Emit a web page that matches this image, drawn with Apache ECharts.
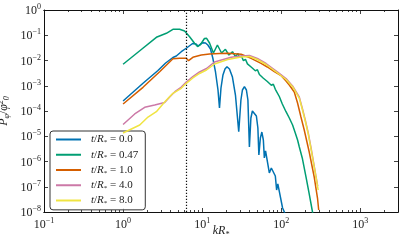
<!DOCTYPE html>
<html><head><meta charset="utf-8">
<script src="https://cdn.jsdelivr.net/npm/echarts@6/dist/echarts.min.js"></script>
<style>html,body{margin:0;padding:0;background:#fff}#c{width:403px;height:245px}</style>
</head><body><div id="c"></div>
<script>
// ---- data ----
const legendValues = ['0.0', '0.47', '1.0', '4.0', '8.0'];
const seriesColors = ['#0072B2', '#009E73', '#D55E00', '#CC79A7', '#F0E442'];

const kBlue = [1.0,1.787,2.763,3.455,4.27,4.714,5.45,6.36,7.57,8.38,8.88,9.55,10.27,11.04,11.80,12.76,13.64,14.76,15.87,16.57,17.31,18.34,19.45,20.61,22.16,24.17,26.38,29.03,30.94,32.32,34.26,36.30,37.92,39.61,41.37,43.21,45.80,48.53,50.70,52.19,54.51,56.93,59.46,61.21,63.39,65.83,70.78,75.02,79.51,84.25,87.50,90.62,94.63,104.1,111.0];
const pBlue = [2.49e-4,1.25e-3,4.02e-3,7.96e-3,0.01315,0.01507,0.02232,0.03126,0.04715,0.04501,0.0375,0.04501,0.0507,0.04933,0.04111,0.02852,0.01256,3.51e-3,6.79e-4,1.31e-4,8.14e-4,2.67e-3,4.61e-3,5.68e-3,4.61e-3,2.22e-3,4.30e-4,1.51e-5,2.73e-4,6.79e-4,9.17e-4,6.79e-4,2.73e-4,3.75e-6,5.28e-5,1.0e-4,1.10e-4,6.34e-5,2.12e-5,1.81e-6,8.53e-6,1.47e-5,7.10e-6,1.38e-6,2.61e-6,2.38e-6,3.51e-7,5.53e-7,5.05e-7,2.67e-7,7.43e-8,1.29e-7,1.17e-7,1.44e-8,9.1e-9];

const kGreen = [1.0,1.672,2.637,3.526,4.272,5.19,6.0,6.94,8.02,8.75,9.55,10.7,11.4,12.4,13.9,15.6,17.6,19.7,21.8,24.2,26.4,28.4,29.6,31.4,33.3,35.3,37.4,39.6,42.0,44.5,47.1,50.0,53.0,56.1,59.5,63.0,66.8,70.8,75.0,79.5,84.3,89.3,94.6,103.3,115,126.6,139.3,150.7,161.1,169.2,184.6,205.5,226,248.8,254];
const pGreen = [7.1e-3,0.0261,0.0829,0.1194,0.172,0.172,0.147,0.0877,0.048,0.0358,0.043,0.0743,0.0757,0.0493,0.0198,0.0411,0.0198,0.0278,0.0165,0.0223,0.0141,0.0189,0.01315,0.01494,9.82e-3,0.01116,7.33e-3,8.33e-3,5.38e-3,6.05e-3,3.91e-3,4.32e-3,2.79e-3,3.06e-3,1.99e-3,2.24e-3,1.47e-3,1.66e-3,1.05e-3,1.15e-3,7.23e-4,7.10e-4,3.75e-4,1.89e-4,9.38e-5,5.28e-5,2.79e-5,1.35e-5,7.1e-6,3.85e-6,1.38e-6,2.5e-7,5.2e-8,1.0e-8,6.9e-9];

const kOrange = [1.0,1.787,2.902,4.27,5.19,6.30,6.74,7.63,9.74,12.40,16.57,21.09,31.12,41.62,55.63,66.79,81.84,99.4,115.0,126.5,146.3,161.0,177.7,195.6,226.1,261.5,287.7,298.0];
const pOrange = [1.89e-4,8.68e-4,3.60e-3,0.01168,0.01222,0.01222,9.82e-3,0.01339,0.01651,0.01808,0.01894,0.01928,0.01761,0.01222,7.74e-3,5.53e-3,3.60e-3,2.55e-3,1.54e-3,1.07e-3,5.65e-4,2.07e-4,5.78e-5,1.77e-5,2.38e-6,2.43e-7,3.58e-8,1.2e-8];

const kPink = [1.0,1.404,1.878,2.511,3.357,3.880,4.620,5.45,6.30,7.63,9.27,11.36,14.33,23.28,31.12,39.61,49.94,64.32,90.08,115.0,139.2,169.2,187.3,201.4,219.7,239.7,274.7,289.4];
const pPink = [2.92e-5,7.61e-5,1.40e-4,1.73e-4,2.17e-4,3.58e-4,6.19e-4,8.91e-4,1.41e-3,2.32e-3,3.51e-3,4.82e-3,8.72e-3,0.01339,0.01507,0.01578,0.012,7.61e-3,3.51e-3,1.94e-3,9.77e-4,3.58e-4,1.10e-4,4.40e-5,1.35e-5,3.13e-6,2.67e-7,1.07e-7];

const kYellow = [1.0,1.624,2.067,2.637,3.357,4.27,5.45,6.30,7.63,9.27,11.36,14.33,21.09,31.12,39.61,49.94,64.32,90.08,115.0,139.2,169.2,187.3,201.4,219.7,239.7,274.7,293.7];
const pYellow = [1.35e-5,2.79e-5,5.78e-5,9.38e-5,2.27e-4,5.02e-4,7.92e-4,1.25e-3,2.03e-3,3.06e-3,4.21e-3,7.27e-3,0.01096,0.01376,0.0144,0.01096,6.95e-3,3.20e-3,1.77e-3,9.17e-4,3.27e-4,1.0e-4,4.02e-5,1.23e-5,2.85e-6,2.5e-7,7.43e-8];

const xMajorTicks = [0.1, 1, 10, 100, 1000];
const xMinorTicks = [0.2,0.3,0.4,0.5,0.6,0.7,0.8,0.9,2,3,4,5,6,7,8,9,20,30,40,50,60,70,80,90,200,300,400,500,600,700,800,900,2000];
const yMajorTicks = [1e-8,1e-7,1e-6,1e-5,1e-4,1e-3,1e-2,1e-1,1];
const xRange = [0.1, 3000];
const yRange = [1e-8, 1];
const dottedK = 6.3;

// ---- chart ----
const F = 'Liberation Serif';
const zip = (k, p) => k.map((v, i) => [v, p[i]]);
const allK = [kBlue, kGreen, kOrange, kPink, kYellow];
const allP = [pBlue, pGreen, pOrange, pPink, pYellow];
const names = legendValues.map(v => 't/R* = ' + v);

function powLabel(v) {
  const e = Math.round(Math.log10(v));
  return '{b|10}{e|' + (e < 0 ? '\u2212' + (-e) : e) + '}';
}
const richPow = {
  b: {fontFamily: F, fontSize: 12, lineHeight: 14, color: '#222', verticalAlign: 'bottom'},
  e: {fontFamily: F, fontSize: 8, lineHeight: 8, color: '#222', verticalAlign: 'top'}
};
const axLine = {show: true, lineStyle: {color: '#111', width: 1}};
function xAx(pos, ticks, len, labels) {
  return {
    type: 'log', logBase: 10, min: xRange[0], max: xRange[1], position: pos,
    axisLine: axLine, splitLine: {show: false},
    axisTick: {show: true, inside: true, length: len, customValues: ticks, lineStyle: {color: '#111', width: 0.8}},
    axisLabel: labels ? {show: true, customValues: ticks, formatter: powLabel, rich: richPow, margin: 5} : {show: false}
  };
}
function yAx(pos, labels) {
  return {
    type: 'log', logBase: 10, min: yRange[0], max: yRange[1], position: pos,
    axisLine: axLine, splitLine: {show: false},
    axisTick: {show: true, inside: true, length: 4, customValues: yMajorTicks, lineStyle: {color: '#111', width: 0.8}},
    axisLabel: labels ? {show: true, customValues: yMajorTicks, formatter: powLabel, rich: richPow, margin: 3} : {show: false}
  };
}
const xs = [xAx('bottom', xMajorTicks, 4, true), xAx('top', xMajorTicks, 4, false),
            xAx('bottom', xMinorTicks, 2, false), xAx('top', xMinorTicks, 2, false)];
xs[0].name = '{i|kR}{s|*}';
xs[0].nameLocation = 'middle';
xs[0].nameGap = 13;
xs[0].nameMoveOverlap = false;
xs[0].nameTextStyle = {rich: {
  i: {fontFamily: F, fontStyle: 'italic', fontSize: 12, color: '#222', lineHeight: 14, verticalAlign: 'top'},
  s: {fontFamily: F, fontStyle: 'italic', fontSize: 8, color: '#222', lineHeight: 8, verticalAlign: 'bottom'}
}};
const ys = [yAx('left', true), yAx('right', false)];
ys[0].name = '{i|P}{s|\u03c6}{n|/}{i|\u03c6}{e|2}{s|0}';
ys[0].nameLocation = 'middle';
ys[0].nameGap = 33;
ys[0].nameRotate = 90;
ys[0].nameMoveOverlap = false;
ys[0].nameTextStyle = {rich: {
  i: {fontFamily: F, fontStyle: 'italic', fontSize: 12, color: '#222', lineHeight: 14},
  n: {fontFamily: F, fontSize: 12, color: '#222', lineHeight: 14},
  s: {fontFamily: F, fontStyle: 'italic', fontSize: 8, color: '#222', lineHeight: 8, verticalAlign: 'bottom'},
  e: {fontFamily: F, fontSize: 8, color: '#222', lineHeight: 8, verticalAlign: 'top'}
}};

const series = allK.map((k, i) => ({
  name: names[i], type: 'line', xAxisIndex: 0, yAxisIndex: 0,
  data: zip(k, allP[i]), showSymbol: false, symbol: 'none',
  lineStyle: {color: seriesColors[i], width: 1.5}, itemStyle: {color: seriesColors[i]},
  z: 2 + i, animation: false
}));
series[0].markLine = {
  silent: true, symbol: ['none', 'none'], label: {show: false},
  lineStyle: {color: '#111', type: [1.2, 1.8], width: 1.2},
  data: [{xAxis: dottedK}], animation: false
};

const chart = echarts.init(document.getElementById('c'), null, {renderer: 'canvas'});
chart.setOption({
  animation: false,
  backgroundColor: '#fff',
  grid: {left: 44, right: 5, top: 10, bottom: 33, containLabel: false, outerBoundsMode: 'none'},
  xAxis: xs, yAxis: ys,
  legend: {
    data: names, orient: 'vertical', left: 50, top: 131,
    icon: 'rect', itemWidth: 25, itemHeight: 2, itemGap: 3.4,
    padding: [3, 7, 3, 6],
    backgroundColor: 'rgba(255,255,255,0.85)', borderColor: '#333', borderWidth: 1, borderRadius: 3,
    formatter: n => '{i|t}{n|/}{i|R}{s|*}{n| = ' + n.split('= ')[1] + '}',
    textStyle: {padding: [0, 0, 0, 5], rich: {
      i: {fontFamily: F, fontStyle: 'italic', fontSize: 11, color: '#222', lineHeight: 12.7},
      n: {fontFamily: F, fontSize: 11, color: '#222', lineHeight: 12.7},
      s: {fontFamily: F, fontSize: 7, color: '#222', lineHeight: 7, verticalAlign: 'bottom'}
    }}
  },
  series: series
});
</script></body></html>
